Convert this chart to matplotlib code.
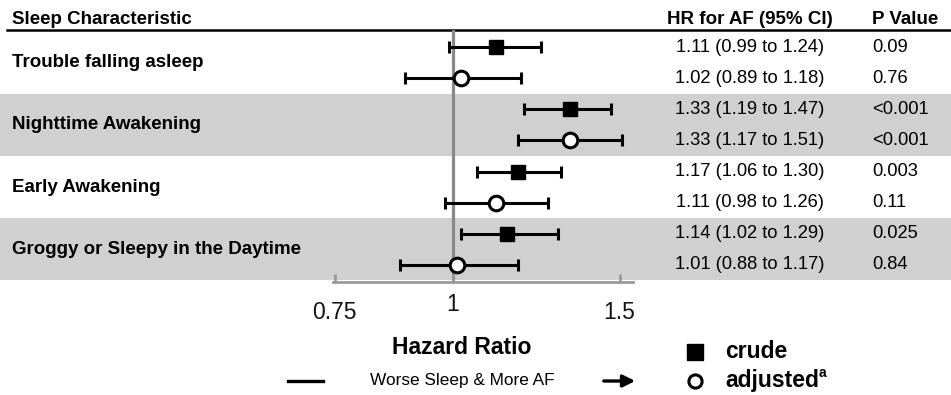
import matplotlib
matplotlib.use('Agg')
import matplotlib.pyplot as plt

plt.rcParams['font.family'] = ['Liberation Sans', 'DejaVu Sans']

# data
groups = ['Trouble falling asleep', 'Nighttime Awakening', 'Early Awakening',
          'Groggy or Sleepy in the Daytime']
crude_hr = [1.11, 1.33, 1.17, 1.14]
crude_lo = [0.99, 1.19, 1.06, 1.02]
crude_hi = [1.24, 1.47, 1.30, 1.29]
crude_p = ['0.09', '<0.001', '0.003', '0.025']
adj_hr = [1.02, 1.33, 1.11, 1.01]
adj_lo = [0.89, 1.17, 0.98, 0.88]
adj_hi = [1.18, 1.51, 1.26, 1.17]
adj_p = ['0.76', '<0.001', '0.11', '0.84']
xticks = [0.75, 1, 1.5]
xtick_labels = ['0.75', '1', '1.5']

W, H = 951, 395
fig = plt.figure(figsize=(W / 100, H / 100), dpi=100)

def fig_rect(left, top, right, bottom):
    return [left / W, (H - bottom) / H, (right - left) / W, (bottom - top) / H]

# background axes: pixel x, row-index y
bg = fig.add_axes(fig_rect(0, 30, W, 282))
bg.set_xlim(0, W)
bg.set_ylim(7.55, -0.55)
bg.axis('off')

ax = fig.add_axes(fig_rect(333, 30, 633, 282))
ax.set_xscale('log')
ax.set_xlim(0.7468, 1.5496)
ax.set_ylim(7.55, -0.55)
ax.patch.set_alpha(0)

# grey bands
for g in range(len(groups)):
    if g % 2 == 1:
        bg.axhspan(2 * g - 0.5, 2 * g + 1.5, color='#d0d0d0', lw=0, zorder=0)

# header line
bg.plot([7, W], [-0.55, -0.55], color='black', lw=1.8, clip_on=False)

crude_y = [2 * g for g in range(len(groups))]
adj_y = [2 * g + 1 for g in range(len(groups))]

ax.axvline(1, color='#8a8a8a', lw=2.3, zorder=1)

ax.errorbar(crude_hr, crude_y,
            xerr=[[h - l for h, l in zip(crude_hr, crude_lo)],
                  [u - h for h, u in zip(crude_hr, crude_hi)]],
            fmt='s', color='black', ms=9.5, elinewidth=2.2, capsize=4.5,
            capthick=2.2, zorder=3)
ax.errorbar(adj_hr, adj_y,
            xerr=[[h - l for h, l in zip(adj_hr, adj_lo)],
                  [u - h for h, u in zip(adj_hr, adj_hi)]],
            fmt='o', color='black', mfc='white', mec='black', mew=2.2, ms=10.5,
            elinewidth=2.2, capsize=4.5, capthick=2.2, zorder=3)

for s in ['top', 'right', 'left']:
    ax.spines[s].set_visible(False)
ax.spines['bottom'].set_color('#999999')
ax.spines['bottom'].set_linewidth(2)
ax.set_yticks([])
ax.set_xticks(xticks)
ax.set_xticklabels(xtick_labels)
ax.minorticks_off()
ax.tick_params(axis='x', direction='in', length=6, width=2, color='#999999',
               labelsize=16.5, pad=14, labelcolor='#111111')
ax.xaxis.get_major_ticks()[1].set_pad(8)

# text table
hdr_y = -0.88
bg.text(12, hdr_y, 'Sleep Characteristic', fontsize=13.5, fontweight='bold',
        va='center', ha='left')
bg.text(750, hdr_y, 'HR for AF (95% CI)', fontsize=13.5, fontweight='bold',
        va='center', ha='center')
bg.text(872, hdr_y, 'P Value', fontsize=13.5, fontweight='bold',
        va='center', ha='left')

for g, name in enumerate(groups):
    bg.text(12, 2 * g + 0.5, name, fontsize=13.5, fontweight='bold',
            va='center', ha='left')
    bg.text(750, crude_y[g], f'{crude_hr[g]:.2f} ({crude_lo[g]:.2f} to {crude_hi[g]:.2f})',
            fontsize=13.2, va='center', ha='center')
    bg.text(750, adj_y[g], f'{adj_hr[g]:.2f} ({adj_lo[g]:.2f} to {adj_hi[g]:.2f})',
            fontsize=13.2, va='center', ha='center')
    bg.text(872, crude_y[g], crude_p[g], fontsize=13.2, va='center', ha='left')
    bg.text(872, adj_y[g], adj_p[g], fontsize=13.2, va='center', ha='left')

# bottom annotations in figure pixels
ov = fig.add_axes([0, 0, 1, 1])
ov.set_xlim(0, W)
ov.set_ylim(H, 0)
ov.axis('off')
ov.patch.set_alpha(0)

ov.text(462, 347, 'Hazard Ratio', fontsize=16.5, fontweight='bold',
        ha='center', va='center')
ov.text(462, 381, 'Worse Sleep & More AF', fontsize=12.4, ha='center', va='center')
ov.plot([288, 323], [381, 381], color='black', lw=2.4)
ov.annotate('', xy=(638, 381), xytext=(601, 381),
            arrowprops=dict(arrowstyle='-|>', color='black', lw=2.4,
                            mutation_scale=18))

ov.plot([695], [352], marker='s', color='black', ms=11)
ov.plot([695], [381], marker='o', mfc='white', mec='black', mew=2.2, ms=9.5)
ov.text(725, 352, 'crude', fontsize=16.5, fontweight='bold', ha='left', va='center')
ov.text(725, 380, 'adjusted', fontsize=16.5, fontweight='bold', ha='left', va='center')
ov.text(819, 373, 'a', fontsize=10, fontweight='bold', ha='left', va='center')

fig.savefig('out.png', dpi=100)
